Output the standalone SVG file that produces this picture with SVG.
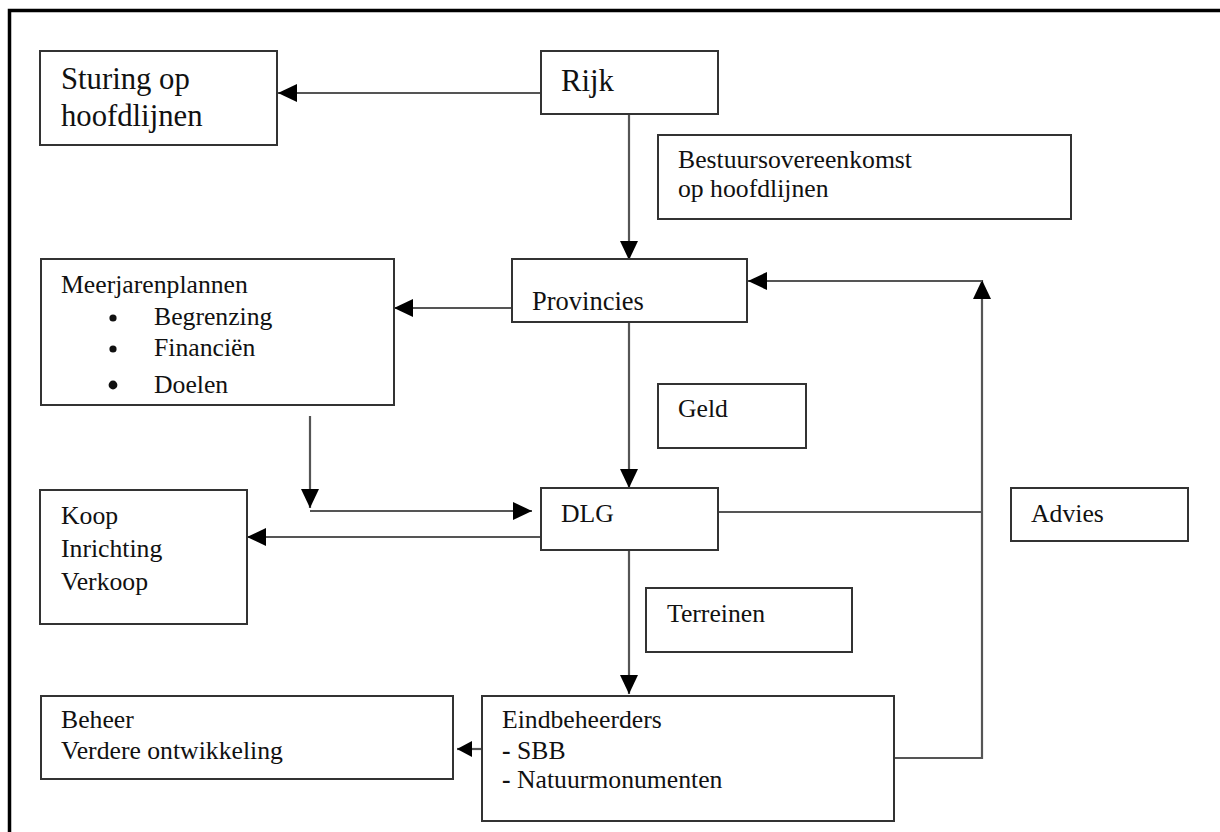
<svg xmlns="http://www.w3.org/2000/svg" width="1220" height="832" viewBox="0 0 1220 832">
<style>
.box{fill:#fff;stroke:#333;stroke-width:2}
.t{font-family:"Liberation Serif","Times New Roman",serif;font-size:25.7px;fill:#111}
.big{font-size:30.7px}
.c{fill:none;stroke:#555;stroke-width:2.2}
.frame{stroke:#000;stroke-width:3.5;fill:none}
</style>
<defs>
<marker id="ah" markerUnits="userSpaceOnUse" markerWidth="20" markerHeight="20" refX="19" refY="9" orient="auto" viewBox="0 0 20 18">
<path d="M0,0 L19,9 L0,18 z" fill="#000"/>
</marker>
<marker id="ahs" markerUnits="userSpaceOnUse" markerWidth="16" markerHeight="16" refX="15" refY="8" orient="auto" viewBox="0 0 16 16">
<path d="M0,0 L15,8 L0,16 z" fill="#000"/>
</marker>
</defs>
<rect width="1220" height="832" fill="#fff"/>
<path class="frame" d="M9.5,832 V10.5 H1220"/>
<g id="connectors">
<path class="c" d="M541,93 H278" marker-end="url(#ah)"/>
<path class="c" d="M629,114 V260" marker-end="url(#ah)"/>
<path class="c" d="M519,308 H394" marker-end="url(#ah)"/>
<path class="c" d="M629,322 V488" marker-end="url(#ah)"/>
<path class="c" d="M310,416 V508" marker-end="url(#ah)"/>
<path class="c" d="M310,511 H532" marker-end="url(#ah)"/>
<path class="c" d="M541,537 H247" marker-end="url(#ah)"/>
<path class="c" d="M718,512 H982"/>
<path class="c" d="M629,550 V694" marker-end="url(#ah)"/>
<path class="c" d="M482,749 H457" marker-end="url(#ahs)"/>
<path class="c" d="M894,758 H982 V280" marker-end="url(#ah)"/>
<path class="c" d="M982,281 H748" marker-end="url(#ah)"/>
</g>
<g id="sturing">
<rect class="box" x="40" y="51" width="237" height="94"/>
<text class="t big" x="61" y="89">Sturing op</text>
<text class="t big" x="61" y="126">hoofdlijnen</text>
</g>
<g id="rijk">
<rect class="box" x="541" y="51" width="177" height="63"/>
<text class="t big" x="561" y="91">Rijk</text>
</g>
<g id="bestuursovereenkomst">
<rect class="box" x="658" y="135" width="413" height="84"/>
<text class="t" x="678" y="168">Bestuursovereenkomst</text>
<text class="t" x="678" y="197">op hoofdlijnen</text>
</g>
<g id="meerjarenplannen">
<rect class="box" x="41" y="259" width="353" height="146"/>
<text class="t" x="61" y="293">Meerjarenplannen</text>
<circle cx="113" cy="318" r="3.6" fill="#111"/>
<circle cx="113" cy="349" r="3.6" fill="#111"/>
<circle cx="113" cy="385" r="4.4" fill="#111"/>
<text class="t" x="154" y="325">Begrenzing</text>
<text class="t" x="154" y="356">Financiën</text>
<text class="t" x="154" y="393">Doelen</text>
</g>
<g id="provincies">
<rect class="box" x="512" y="259" width="235" height="63"/>
<text class="t" x="532" y="310" style="font-size:26.5px">Provincies</text>
</g>
<g id="geld">
<rect class="box" x="658" y="384" width="148" height="64"/>
<text class="t" x="678" y="417">Geld</text>
</g>
<g id="koop">
<rect class="box" x="40" y="490" width="207" height="134"/>
<text class="t" x="61" y="524">Koop</text>
<text class="t" x="61" y="557">Inrichting</text>
<text class="t" x="61" y="590">Verkoop</text>
</g>
<g id="dlg">
<rect class="box" x="541" y="488" width="177" height="62"/>
<text class="t" x="561" y="522">DLG</text>
</g>
<g id="advies">
<rect class="box" x="1011" y="488" width="177" height="53"/>
<text class="t" x="1031" y="522">Advies</text>
</g>
<g id="terreinen">
<rect class="box" x="646" y="588" width="206" height="64"/>
<text class="t" x="667" y="622">Terreinen</text>
</g>
<g id="beheer">
<rect class="box" x="41" y="696" width="412" height="83"/>
<text class="t" x="61" y="728">Beheer</text>
<text class="t" x="61" y="759">Verdere ontwikkeling</text>
</g>
<g id="eindbeheerders">
<rect class="box" x="482" y="696" width="412" height="125"/>
<text class="t" x="502" y="728">Eindbeheerders</text>
<text class="t" x="502" y="759"><tspan font-weight="bold">-</tspan> SBB</text>
<text class="t" x="502" y="788"><tspan font-weight="bold">-</tspan> Natuurmonumenten</text>
</g>
</svg>
